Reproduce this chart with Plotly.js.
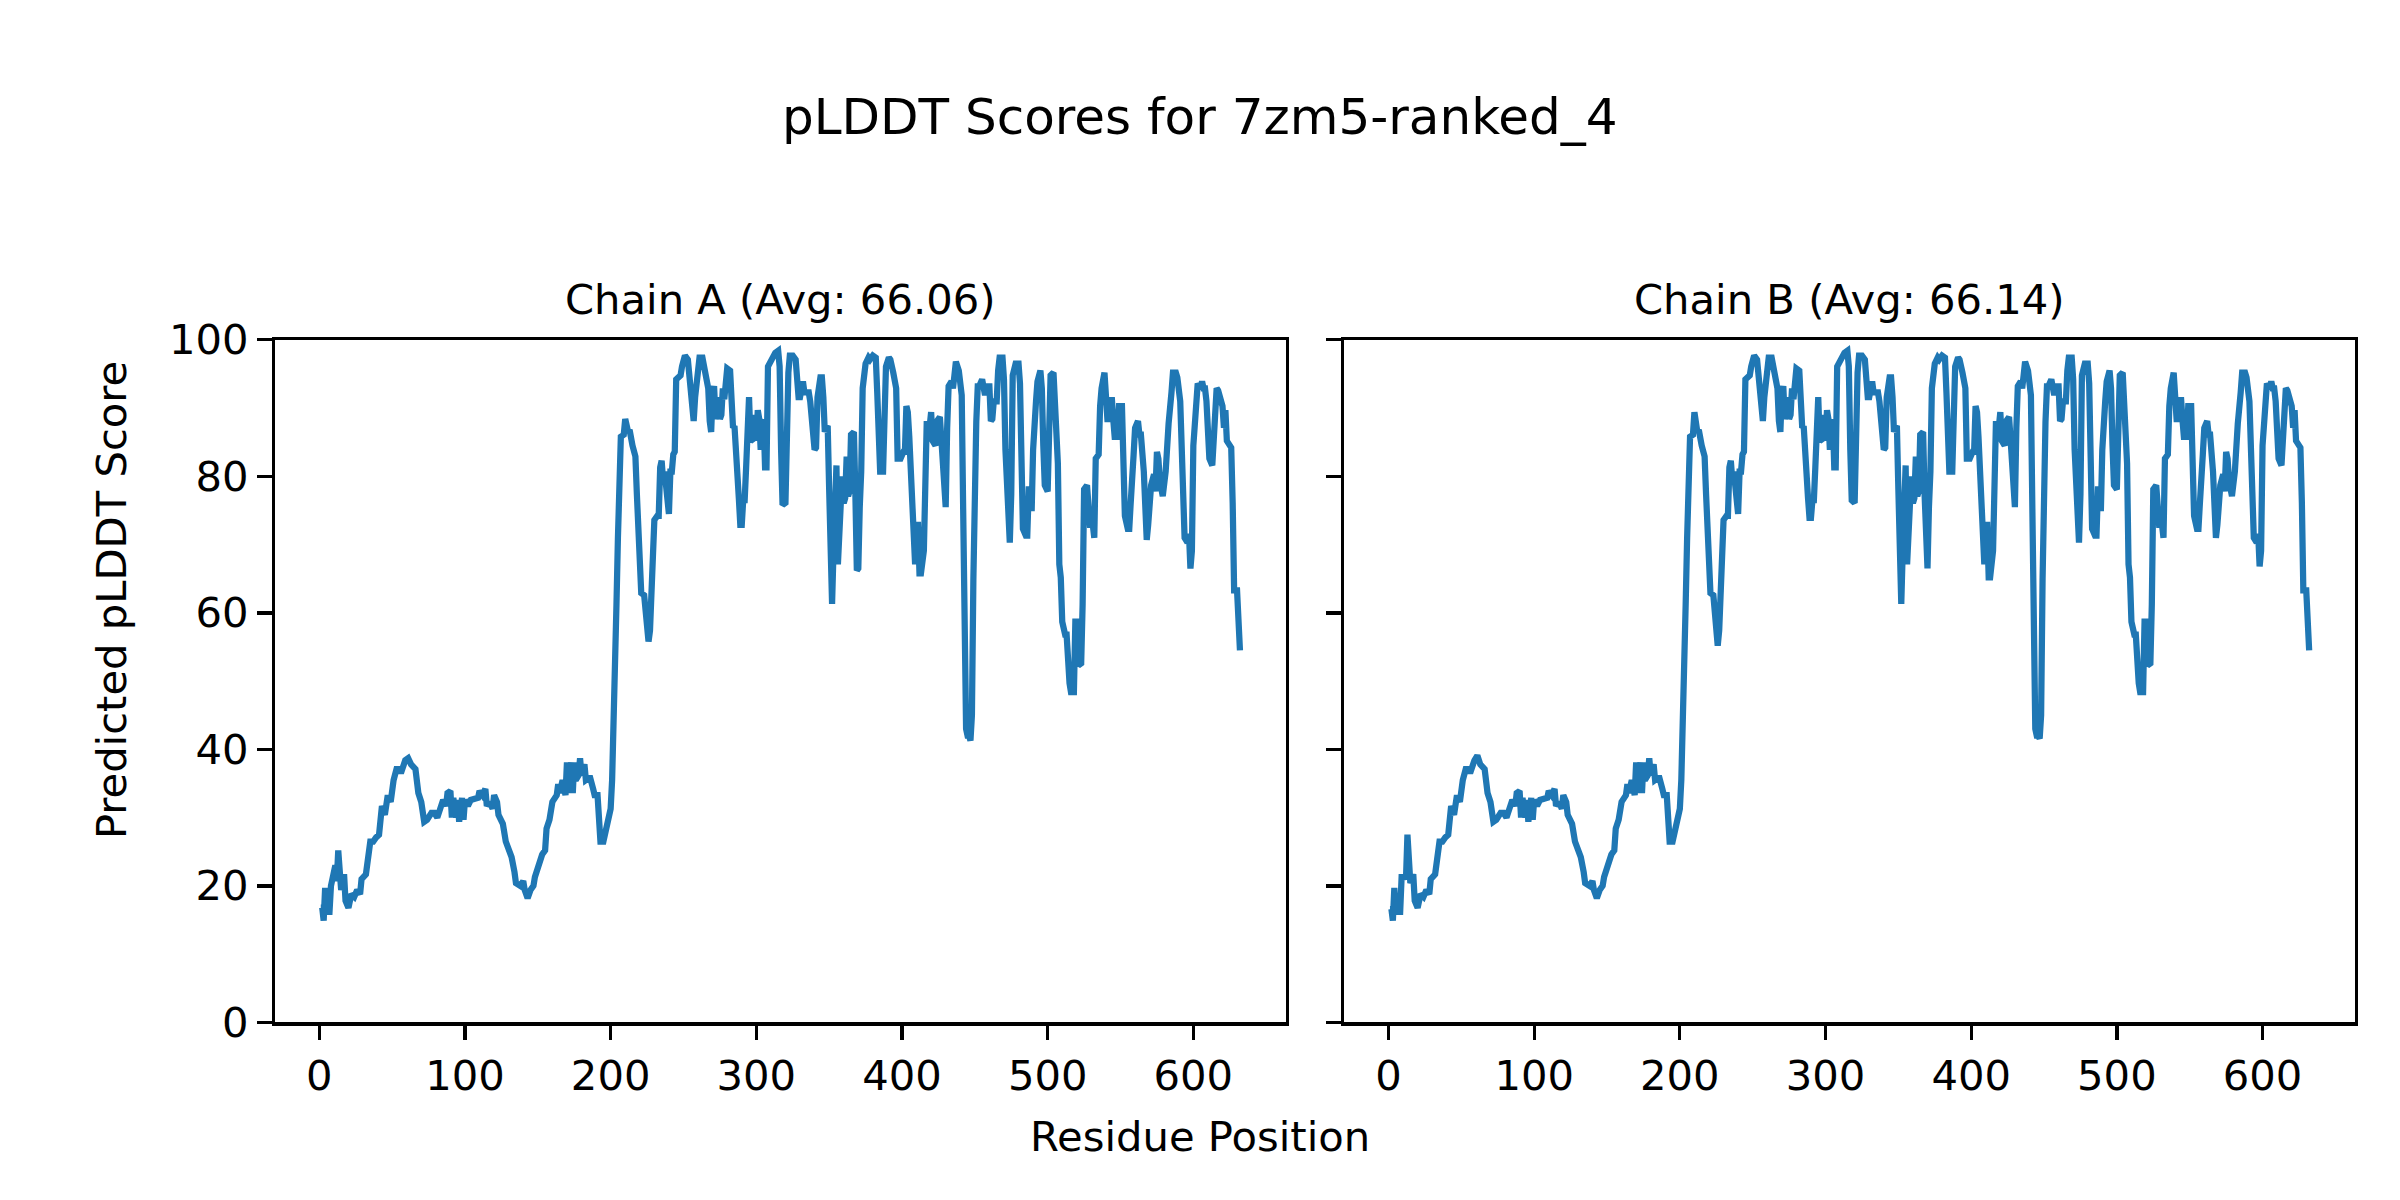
<!DOCTYPE html>
<html>
<head>
<meta charset="utf-8">
<script src="https://cdn.plot.ly/plotly-3.0.1.min.js"></script>
<style>html,body{margin:0;padding:0;background:#fff;}#chart{width:2400px;height:1200px;}</style>
</head>
<body>
<div id="chart"></div>
<script>
const figTitle = "pLDDT Scores for 7zm5-ranked_4";
const chainTitles = ["Chain A (Avg: 66.06)", "Chain B (Avg: 66.14)"];
const xLabel = "Residue Position";
const yLabel = "Predicted pLDDT Score";
const xTicks = [0, 100, 200, 300, 400, 500, 600];
const yTicks = [0, 20, 40, 60, 80, 100];

const residuesA = [1,2,3,4,5,7,8,11,12,13,15,17,18,20,22,24,26,28,29,32,35,37,39,41,43,45,47,49,51,53,55,56,59,61,63,66,68,70,72,74,77,79,81,83,85,87,88,90,91,92,94,95,96,98,99,100,102,104,107,109,110,112,114,115,117,119,120,122,123,126,128,130,132,134,135,138,140,141,143,145,147,148,150,151,153,155,156,158,160,163,164,165,166,167,169,170,171,173,174,175,176,178,179,180,182,183,185,186,188,189,191,192,193,195,197,198,200,201,202,203,204,205,206,207,209,210,212,213,215,217,218,219,220,221,223,224,225,226,227,228,229,230,232,233,234,235,236,237,238,240,241,242,243,244,245,248,249,251,253,255,256,257,258,260,261,263,264,266,267,268,269,270,271,272,273,274,275,276,277,278,279,280,282,283,284,285,286,287,288,289,290,291,292,293,295,296,298,299,300,301,302,303,304,305,306,307,308,311,313,315,316,317,318,320,321,322,323,325,327,328,329,330,332,333,336,337,339,340,341,342,344,345,346,347,348,349,350,352,353,354,355,356,357,358,359,360,361,362,363,364,365,366,367,368,369,370,371,372,373,375,377,378,380,382,383,384,385,387,388,389,391,392,394,395,396,397,399,401,402,403,404,405,407,408,409,410,411,412,413,415,416,417,418,419,420,421,423,424,426,427,429,430,431,432,434,435,436,437,439,440,441,442,443,444,445,446,447,448,449,450,451,452,453,455,456,457,458,460,461,462,463,465,466,467,469,470,471,473,474,475,476,478,480,481,482,483,485,486,487,488,489,490,492,493,495,496,497,498,500,501,502,504,505,507,508,509,510,511,512,513,514,515,516,518,519,520,521,523,524,525,527,528,529,531,532,533,535,536,537,539,540,541,543,544,545,546,548,549,551,552,553,555,556,557,558,559,560,562,563,564,566,567,568,569,570,571,573,574,575,576,577,578,579,581,582,583,585,586,588,589,591,592,593,594,596,597,598,599,600,601,602,603,605,606,607,608,609,610,611,613,614,615,616,617,618,619,620,621,622,623,625,626,627,628,630,631,632];
const plddtA = [16.8,16.8,14.9,19.7,16.2,16.2,20.0,23.0,20.7,25.2,19.4,21.7,17.8,16.8,18.8,18.4,19.4,18.8,21.0,21.7,26.5,26.5,27.1,27.5,31.7,30.4,33.3,32.3,35.5,37.1,37.1,36.5,38.4,38.7,37.8,37.1,33.6,32.3,29.4,29.7,30.7,30.7,30.0,31.3,32.6,31.7,33.6,33.9,30.0,32.9,30.0,32.6,29.4,32.9,29.7,32.6,31.7,32.6,32.9,32.9,33.9,33.3,34.2,31.7,32.3,31.3,33.3,32.3,30.4,29.1,26.5,25.2,24.2,22.0,20.4,20.0,20.7,19.4,18.2,19.4,20.0,21.3,22.9,22.9,24.6,25.2,28.4,29.7,32.3,33.3,34.9,33.6,35.5,35.5,33.3,38.1,33.6,38.1,33.6,38.1,35.5,36.2,38.7,36.2,37.8,35.5,35.8,35.8,34.2,33.3,33.3,28.4,26.5,26.5,28.8,29.1,31.3,35.5,42.0,48.4,61.3,71.0,77.4,85.8,86.1,88.4,86.5,86.8,84.5,82.9,77.4,71.6,66.5,62.9,62.6,60.0,60.0,55.8,57.4,62.6,70.3,73.6,74.2,74.2,81.3,82.3,79.4,80.7,78.7,74.5,80.7,80.7,83.2,83.6,94.2,94.8,96.1,97.7,97.1,92.3,88.7,88.1,91.6,97.1,97.4,97.4,96.1,94.8,92.9,88.1,86.5,92.3,93.2,88.4,89.4,91.6,88.4,89.0,92.9,91.3,94.8,95.8,95.5,92.6,87.1,87.4,81.9,78.1,76.8,72.9,72.9,76.5,76.5,81.3,91.6,85.2,85.5,89.0,85.2,89.7,88.4,83.9,88.4,88.4,81.3,81.3,96.1,97.4,98.1,98.4,96.1,83.9,75.8,76.1,94.8,95.2,97.7,97.7,97.1,93.9,91.6,91.6,93.9,92.3,92.3,91.0,85.8,83.9,84.2,91.6,94.5,94.5,91.6,86.5,87.1,87.4,78.1,61.3,69.1,76.8,81.6,67.1,75.5,76.1,80.0,76.1,76.8,82.9,77.1,77.8,86.1,86.5,86.5,77.4,66.2,66.5,75.5,80.7,92.9,96.5,97.4,97.1,97.7,97.4,92.3,85.5,80.7,80.7,90.3,96.1,97.4,97.1,95.2,93.9,92.9,82.6,82.6,83.6,83.6,90.3,89.4,85.8,76.1,70.3,67.1,72.9,72.9,65.8,65.8,69.1,87.7,88.1,85.2,88.1,89.4,85.2,84.5,88.1,88.7,85.5,75.8,75.5,87.1,93.2,93.9,92.9,94.8,96.8,95.5,92.6,91.9,75.0,52.0,43.0,42.0,42.0,41.3,45.0,65.0,85.0,88.0,93.2,93.2,94.2,91.9,91.9,93.2,93.2,88.1,88.4,91.0,91.0,95.5,97.4,97.4,94.2,83.9,76.1,70.3,77.4,94.8,96.5,96.5,93.6,85.8,72.3,71.3,71.3,78.1,78.1,74.9,83.9,91.0,93.9,95.5,92.9,84.5,78.7,77.8,88.4,94.8,95.2,91.6,81.9,67.1,65.2,58.7,57.1,56.8,56.8,50.0,49.7,48.4,48.4,58.7,58.7,52.3,52.6,61.3,78.1,78.7,76.8,72.9,72.9,71.0,82.6,83.2,90.3,92.9,95.2,92.3,88.4,88.4,91.6,88.4,85.8,85.8,90.3,90.3,83.9,74.2,72.3,72.3,76.1,83.2,83.2,87.1,88.1,86.1,86.1,80.7,72.9,70.7,72.9,78.7,78.7,80.3,77.8,83.6,82.6,79.4,77.1,77.1,80.7,87.1,87.7,92.3,95.2,95.2,94.5,91.0,83.9,77.4,71.0,70.3,71.6,66.5,69.1,84.5,88.4,92.6,93.6,92.9,93.9,92.9,92.9,91.0,87.1,82.6,81.6,87.1,91.9,92.9,92.6,91.9,90.7,90.3,87.1,89.7,85.2,84.5,84.2,76.1,63.3,63.3,58.7,54.5];

const residuesB = [1,2,3,4,5,7,8,9,11,12,13,15,17,18,20,22,24,26,28,29,32,35,37,39,41,43,45,47,49,51,53,55,56,59,61,63,66,68,70,72,74,77,79,81,83,85,87,88,90,91,92,94,95,96,98,99,100,102,104,107,109,110,112,114,115,117,119,120,122,123,126,128,130,132,134,135,138,140,141,143,145,147,148,150,151,153,155,156,158,160,163,164,165,166,167,169,170,171,173,174,175,176,178,179,180,182,183,185,186,188,189,191,192,193,195,197,198,200,201,202,203,204,205,206,207,209,210,212,213,215,217,218,219,220,221,223,224,225,226,227,228,229,230,232,233,234,235,236,237,238,240,241,242,243,244,245,248,249,251,253,255,256,257,258,260,261,263,264,266,267,268,269,270,271,272,273,274,275,276,277,278,279,280,282,283,284,285,286,287,288,289,290,291,292,293,295,296,298,299,300,301,302,303,304,305,306,307,308,311,313,315,316,317,318,320,321,322,323,325,327,328,329,330,332,333,336,337,339,340,341,342,344,345,346,347,348,349,350,352,353,354,355,356,357,358,359,360,361,362,363,364,365,366,367,368,369,370,371,372,373,375,377,378,380,382,383,384,385,387,388,389,391,392,394,395,396,397,399,401,402,403,404,405,407,408,409,410,411,412,413,415,416,417,418,419,420,421,423,424,426,427,429,430,431,432,434,435,436,437,439,440,441,442,443,444,445,446,447,448,449,450,451,452,453,455,456,457,458,460,461,462,463,465,466,467,469,470,471,473,474,475,476,478,480,481,482,483,485,486,487,488,489,490,492,493,495,496,497,498,500,501,502,504,505,507,508,509,510,511,512,513,514,515,516,518,519,520,521,523,524,525,527,528,529,531,532,533,535,536,537,539,540,541,543,544,545,546,548,549,551,552,553,555,556,557,558,559,560,562,563,564,566,567,568,569,570,571,573,574,575,576,577,578,579,581,582,583,585,586,588,589,591,592,593,594,596,597,598,599,600,601,602,603,605,606,607,608,609,610,611,613,614,615,616,617,618,619,620,621,622,623,625,626,627,628,630,631,632];
const plddtB = [16.6,16.6,14.9,19.7,16.2,16.2,16.2,21.3,21.3,21.0,27.5,20.4,21.7,17.8,16.8,18.8,18.4,19.4,18.8,21.0,21.7,26.5,26.5,27.1,27.5,31.7,30.4,33.3,32.3,35.5,37.1,37.1,36.5,38.4,39.1,37.8,37.1,33.6,32.3,29.4,29.7,30.7,30.7,30.0,31.3,32.6,31.7,33.6,33.9,30.0,32.9,30.0,32.6,29.4,32.9,29.7,32.6,31.7,32.6,32.9,32.9,33.9,33.3,34.2,31.7,32.3,31.3,33.3,32.3,30.4,29.1,26.5,25.2,24.2,22.0,20.4,20.0,20.7,19.4,18.2,19.4,20.0,21.3,22.9,22.9,24.6,25.2,28.4,29.7,32.3,33.3,34.9,33.6,35.5,35.5,33.3,38.1,33.6,38.1,33.6,38.1,35.5,36.2,38.7,36.2,37.8,35.5,35.8,35.8,34.2,33.3,33.3,28.4,26.5,26.5,28.8,29.1,31.3,35.5,42.0,48.4,61.3,71.0,77.4,85.8,86.1,89.4,86.5,86.8,84.5,82.9,77.4,71.6,66.5,62.9,62.6,60.0,60.0,55.2,57.4,62.6,70.3,73.6,74.2,74.2,81.3,82.3,79.4,80.7,78.7,74.5,80.7,80.7,83.2,83.6,94.2,94.8,96.1,97.7,97.1,92.3,88.7,88.1,91.6,97.1,97.4,97.4,96.1,94.8,92.9,88.1,86.5,92.3,93.2,88.4,89.4,91.6,88.4,89.0,92.9,91.3,94.8,95.8,95.5,92.6,87.1,87.4,81.9,78.1,76.8,73.9,73.9,76.5,76.5,81.3,91.6,85.2,85.5,89.0,85.2,89.7,88.4,83.9,88.4,88.4,81.3,81.3,96.1,97.4,98.1,98.4,96.1,83.9,76.5,76.1,94.8,95.2,97.7,97.7,97.1,93.9,91.6,91.6,93.9,92.3,92.3,91.0,85.8,83.9,84.2,91.6,94.5,94.5,91.6,86.5,87.1,87.4,78.1,61.3,69.1,76.8,81.6,67.1,75.5,76.1,80.0,76.1,76.8,82.9,77.1,77.8,86.1,86.5,86.5,77.4,66.8,66.5,75.5,80.7,92.9,96.5,97.4,97.1,97.7,97.4,92.3,85.5,80.7,80.7,90.3,96.1,97.4,97.1,95.2,93.9,92.9,82.6,82.6,83.6,83.6,90.3,89.4,85.8,76.1,70.3,67.1,72.9,72.9,65.2,65.2,69.1,87.7,88.1,85.2,88.1,89.4,85.2,84.5,88.1,88.7,85.5,75.8,75.5,87.1,93.2,93.9,92.9,94.8,96.8,95.5,92.6,91.9,75.0,52.0,43.0,42.0,42.0,41.6,45.0,65.0,85.0,88.0,93.2,93.2,94.2,91.9,91.9,93.2,93.2,88.1,88.4,91.0,91.0,95.5,97.4,97.4,94.2,83.9,76.1,70.3,77.4,94.8,96.5,96.5,93.6,85.8,72.3,71.3,71.3,78.1,78.1,74.9,83.9,91.0,93.9,95.5,92.9,84.5,78.7,78.1,88.4,94.8,95.2,91.6,81.9,67.1,65.2,58.7,57.1,56.8,56.8,50.0,49.7,48.4,48.4,58.7,58.7,52.3,52.6,61.3,78.1,78.7,76.8,72.9,72.9,71.0,82.6,83.2,90.3,92.9,95.2,92.3,88.4,88.4,91.6,88.4,85.8,85.8,90.3,90.3,83.9,74.2,72.3,72.3,76.1,83.2,83.2,87.1,88.1,86.1,86.1,80.7,72.9,71.0,72.9,78.7,78.7,80.3,77.8,83.6,82.6,79.4,77.1,77.1,80.7,87.1,87.7,92.3,95.2,95.2,94.5,91.0,83.9,77.4,71.0,70.3,71.6,66.8,69.1,84.5,88.4,92.6,93.6,92.9,93.9,92.9,92.9,91.0,87.1,82.6,81.6,87.1,91.9,92.9,92.6,91.9,90.7,90.3,87.1,89.7,85.2,84.5,84.2,76.1,63.3,63.3,58.7,54.5];

const FONT = "DejaVu Sans, Liberation Sans, sans-serif";
const lineColor = "#1f77b4";

const traces = [
  {x: residuesA, y: plddtA, type: "scatter", mode: "lines", xaxis: "x", yaxis: "y",
   line: {color: lineColor, width: 6.25}, showlegend: false, hoverinfo: "skip"},
  {x: residuesB, y: plddtB, type: "scatter", mode: "lines", xaxis: "x2", yaxis: "y2",
   line: {color: lineColor, width: 6.25}, showlegend: false, hoverinfo: "skip"}
];

const axisCommon = {
  showgrid: false, zeroline: false, showline: true, mirror: true,
  linecolor: "black", linewidth: 3.3,
  ticks: "outside", ticklen: 14.6, tickwidth: 3.3, tickcolor: "black",
  tickfont: {family: FONT, size: 41.7, color: "black"}
};

const yDomain = [0.148, 0.7168];
const xDomA = [0.1145, 0.5358];
const xDomB = [0.56, 0.9813];

const layout = {
  width: 2400, height: 1200,
  margin: {l: 0, r: 0, t: 0, b: 0},
  paper_bgcolor: "white", plot_bgcolor: "white",
  font: {family: FONT, color: "black"},
  xaxis: Object.assign({}, axisCommon, {domain: xDomA, anchor: "y", range: [-30.55, 663.55], tickvals: xTicks}),
  yaxis: Object.assign({}, axisCommon, {domain: yDomain, anchor: "x", range: [0, 100], tickvals: yTicks}),
  xaxis2: Object.assign({}, axisCommon, {domain: xDomB, anchor: "y2", range: [-30.55, 663.55], tickvals: xTicks}),
  yaxis2: Object.assign({}, axisCommon, {domain: yDomain, anchor: "x2", range: [0, 100], tickvals: yTicks, showticklabels: false}),
  annotations: [
    {text: figTitle, xref: "paper", yref: "paper", x: 0.5, y: 0.9025, xanchor: "center", yanchor: "middle",
     showarrow: false, font: {family: FONT, size: 50, color: "black"}},
    {text: chainTitles[0], xref: "paper", yref: "paper", x: (xDomA[0] + xDomA[1]) / 2, y: 0.7503,
     xanchor: "center", yanchor: "middle", showarrow: false, font: {family: FONT, size: 41.7, color: "black"}},
    {text: chainTitles[1], xref: "paper", yref: "paper", x: (xDomB[0] + xDomB[1]) / 2, y: 0.7503,
     xanchor: "center", yanchor: "middle", showarrow: false, font: {family: FONT, size: 41.7, color: "black"}},
    {text: xLabel, xref: "paper", yref: "paper", x: 0.5, y: 0.0528, xanchor: "center", yanchor: "middle",
     showarrow: false, font: {family: FONT, size: 41.7, color: "black"}},
    {text: yLabel, xref: "paper", yref: "paper", x: 0.0463, y: 0.5, xanchor: "center", yanchor: "middle",
     textangle: -90, showarrow: false, font: {family: FONT, size: 41.7, color: "black"}}
  ]
};

Plotly.newPlot("chart", traces, layout, {staticPlot: true, displayModeBar: false});
</script>
</body>
</html>
